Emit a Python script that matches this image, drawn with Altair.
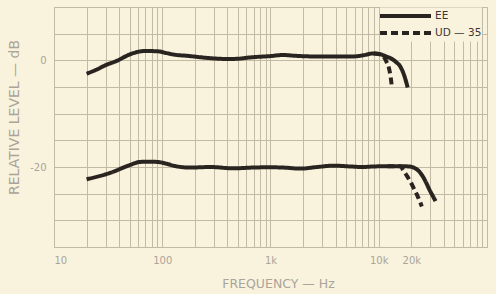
import altair as alt
import pandas as pd

# ---- data ----
ee_top_freq = [20, 25, 30, 38, 50, 60, 70, 90, 110, 130, 170, 220, 280, 400, 500, 650,
               1000, 1300, 1700, 2200, 3000, 4000, 5500, 7000, 9000, 10500, 12000, 13000,
               14500, 15500, 16500, 17300, 18000, 18500]
ee_top_db = [-2.5, -1.7, -0.9, -0.1, 1.1, 1.6, 1.75, 1.7, 1.35, 1.05, 0.85, 0.6, 0.4, 0.25, 0.3, 0.55,
             0.8, 1.0, 0.85, 0.75, 0.7, 0.7, 0.7, 0.9, 1.3, 1.1, 0.65, 0.35,
             -0.35, -0.9, -1.9, -3.0, -4.2, -5.1]

ud_top_freq = [9000, 10500, 11100, 11800, 12400, 12800, 13050, 13200]
ud_top_db = [1.3, 1.1, 0.7, -0.3, -1.4, -2.8, -4.0, -5.0]

ee_bot_freq = [20, 33, 50, 62, 75, 90, 110, 130, 180, 280, 450, 700, 950, 1300, 1900, 2700,
               3800, 5500, 7000, 9000, 12000, 16000, 19000, 21200, 23000, 25400, 27500,
               29300, 31500, 33500]
ee_bot_db = [-22.3, -21.1, -19.65, -19.05, -19.0, -19.05, -19.4, -19.8, -20.1, -20.0, -20.25,
             -20.1, -20.05, -20.1, -20.3, -20.0, -19.75, -19.9, -20.0, -19.9, -19.85, -19.85,
             -19.9, -20.15, -20.6, -21.7, -23.0, -24.2, -25.4, -26.4]

ud_bot_freq = [12000, 16000, 16600, 18000, 19800, 21300, 22800, 25000]
ud_bot_db = [-19.85, -19.85, -20.4, -21.5, -22.9, -24.2, -25.4, -27.4]

series_names = ["EE", "UD — 35"]

x_grid = [m * 10 ** e for e in range(1, 5) for m in range(1, 10)] + [100000]
x_label_values = [10, 100, 1000, 10000, 20000]
x_label_texts = ["10", "100", "1k", "10k", "20k"]

y_grid = [-35, -30, -25, -20, -15, -10, -5, 0, 5, 10]
y_label_values = [0, -20]
y_label_texts = ["0", "-20"]

# ---- table ----
parts = []
for name, curve, f, d in [
    (series_names[0], "top", ee_top_freq, ee_top_db),
    (series_names[1], "top", ud_top_freq, ud_top_db),
    (series_names[0], "bottom", ee_bot_freq, ee_bot_db),
    (series_names[1], "bottom", ud_bot_freq, ud_bot_db),
]:
    parts.append(pd.DataFrame({"freq": f, "db": d, "series": name, "curve": curve}))
df = pd.concat(parts, ignore_index=True)


def label_expr(values, texts):
    expr = "''"
    for v, t in reversed(list(zip(values, texts))):
        expr = f"datum.value == {v} ? '{t}' : ({expr})"
    return expr


bg = "#f9f3de"
grid = "#c2baa4"
ink = "#2a2420"
soft = "#aaa499"
font = "DejaVu Sans"

chart = alt.Chart(df).mark_line(
    strokeWidth=4, color=ink, interpolate="monotone"
).encode(
    x=alt.X(
        "freq:Q",
        scale=alt.Scale(type="log", domain=[10, 100000], nice=False),
        axis=alt.Axis(
            values=x_grid, labelExpr=label_expr(x_label_values, x_label_texts),
            title="FREQUENCY — Hz", grid=True, gridColor=grid, gridWidth=1,
            ticks=False, tickSize=0, domain=False, labelFlush=True, labelOverlap=False,
            labelPadding=8, labelFontSize=10, labelColor=soft, labelFont=font,
            titleFont=font, titleFontSize=12.5, titleFontWeight="normal", titleColor=soft,
            titleX=224, titleY=36, titleAlign="center", titleBaseline="middle",
        ),
    ),
    y=alt.Y(
        "db:Q",
        scale=alt.Scale(domain=[-35, 10], nice=False, zero=False),
        axis=alt.Axis(
            values=y_grid, labelExpr=label_expr(y_label_values, y_label_texts),
            title="RELATIVE LEVEL — dB", grid=True, gridColor=grid, gridWidth=1,
            ticks=False, tickSize=0, domain=False, labelOverlap=False,
            labelPadding=8, labelFontSize=10, labelColor=soft, labelFont=font,
            titleFont=font, titleFontSize=14, titleFontWeight="normal", titleColor=soft,
            titleX=-40, titleY=110, titleAlign="center", titleBaseline="middle", titleAngle=270,
        ),
    ),
    strokeDash=alt.StrokeDash(
        "series:N",
        scale=alt.Scale(domain=series_names, range=[[1, 0], [7, 4]]),
        legend=alt.Legend(
            title=None, orient="none", legendX=326, legendY=0.5, direction="vertical",
            symbolType="M-1.3333,0H6.6667", symbolSize=162.56, symbolStrokeWidth=4,
            symbolStrokeColor=ink, symbolFillColor="transparent", symbolOffset=0,
            labelOffset=38, labelFont=font, labelFontSize=10.5, labelColor="#3c3733",
            fillColor=bg, padding=0, rowPadding=0,
        ),
    ),
    detail="curve:N",
).properties(
    width=433, height=240,
    autosize=alt.AutoSizeParams(type="none"),
    padding={"left": 54, "top": 7, "right": 9, "bottom": 47},
    background=bg,
).configure_view(
    fill=bg, stroke=grid, strokeWidth=1
)

chart.save("out.html", embed_options={"renderer": "svg", "actions": False})
